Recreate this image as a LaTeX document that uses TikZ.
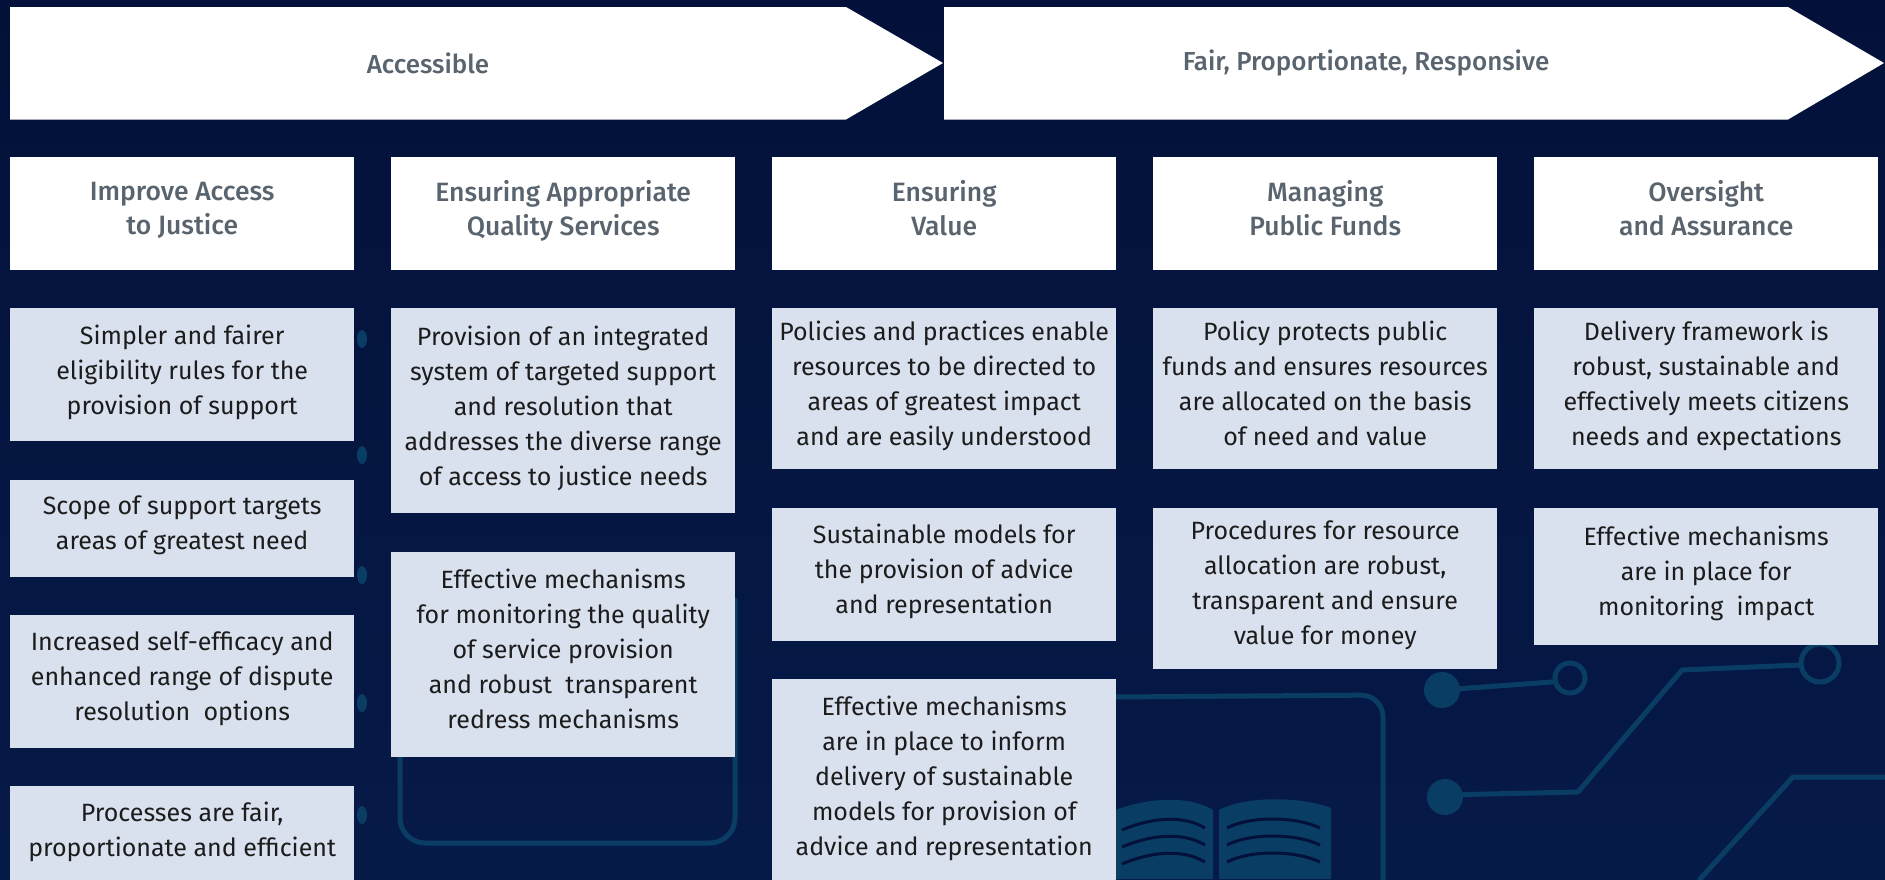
\documentclass[tikz,border=0pt]{standalone}
\usepackage{fontspec}
\setmainfont{Fira Sans}[BoldFont={Fira Sans Medium}]
\usetikzlibrary{positioning}

\definecolor{bgnavy}{HTML}{061A48}
\definecolor{bgdeep}{HTML}{03113A}
\definecolor{tracecol}{HTML}{0A3D64}
\definecolor{cardfill}{HTML}{D9E0EE}
\definecolor{headgray}{HTML}{59646F}
\definecolor{bodyink}{HTML}{1C1C1C}

\tikzset{
  bandtext/.style={font=\fontsize{26}{34}\selectfont\bfseries, text=headgray},
  headbox/.style={rectangle, fill=white, minimum width=344pt, minimum height=112.5pt,
    align=center, inner sep=0pt, text=headgray,
    font=\fontsize{26.5}{34}\selectfont\bfseries,
    execute at begin node=\strut, execute at end node=\strut},
  card/.style={rectangle, fill=cardfill, minimum width=344pt,
    align=center, inner sep=0pt, text=bodyink, font=\fontsize{25}{35}\selectfont,
    execute at begin node=\rule{0pt}{31.5pt}, execute at end node=\strut},
  trace/.style={draw=tracecol, line width=5pt, line cap=round, line join=round},
  pad/.style={fill=tracecol}
}

\begin{document}
\begin{tikzpicture}[x=1pt, y=-1pt, node distance=38pt]
	\useasboundingbox (0,0) rectangle (1885,879);
	\clip (0,0) rectangle (1885,879);

	% background
	\shade[top color=bgdeep, bottom color=bgnavy] (0,0) rectangle (1885,879);
	\draw[trace, rounded corners=25pt] (735,600) -- (735,843) -- (400,843) -- (400,600);
	\draw[trace, rounded corners=22pt] (1115,697) -- (1383,695) -- (1383,879);
	\draw[trace] (1442,690) -- (1552,682);
	\draw[trace] (1443,795) -- (1578,792) -- (1682,670) -- (1800,665);
	\draw[trace] (1885,777) -- (1793,777) -- (1700,879);
	\draw[trace] (1570,678) circle (15pt);
	\draw[trace] (1820,663) circle (19pt);
	\fill[pad] (1442,690) circle (18pt);
	\fill[pad] (1445,797) circle (18pt);
	\fill[pad] (362,339) ellipse (5pt and 9pt);
	\fill[pad] (362,455) ellipse (5pt and 9pt);
	\fill[pad] (362,575) ellipse (5pt and 9pt);
	\fill[pad] (362,703) ellipse (5pt and 9pt);
	\fill[pad] (362,815) ellipse (5pt and 9pt);

	% book
	\fill[pad] (1110,812) .. controls (1150,796) and (1190,796) .. (1213,810) -- (1213,879) -- (1110,879) -- cycle;
	\fill[pad] (1219,810) .. controls (1245,796) and (1300,796) .. (1331,808) -- (1331,879) -- (1219,879) -- cycle;
	\draw[bgdeep, line width=3pt] (1122,830) .. controls (1155,816) and (1185,816) .. (1205,828);
	\draw[bgdeep, line width=3pt] (1122,847) .. controls (1155,833) and (1185,833) .. (1205,845);
	\draw[bgdeep, line width=3pt] (1122,864) .. controls (1155,850) and (1185,850) .. (1205,862);
	\draw[bgdeep, line width=3pt] (1227,828) .. controls (1250,816) and (1295,816) .. (1320,828);
	\draw[bgdeep, line width=3pt] (1227,845) .. controls (1250,833) and (1295,833) .. (1320,845);
	\draw[bgdeep, line width=3pt] (1227,862) .. controls (1250,850) and (1295,850) .. (1320,862);

	% top bands
	\fill[white] (10,7) -- (846,7) -- (943,63) -- (846,119.5) -- (10,119.5) -- cycle;
	\fill[white] (944,7) -- (1788,7) -- (1884,63) -- (1788,119.5) -- (944,119.5) -- cycle;
	\node[bandtext] (accessible) at (428,63) {Accessible};
	\node[bandtext] (fair) at (1366,63) {Fair, Proportionate, Responsive};

	% column headers
	\node[headbox, anchor=north west] (hAccess) at (10,157) {Improve Access\\to Justice};
	\node[headbox, anchor=north west] (hQuality) at (391,157) {Ensuring Appropriate\\Quality Services};
	\node[headbox, anchor=north west] (hValue) at (772,157) {Ensuring\\Value};
	\node[headbox, anchor=north west] (hFunds) at (1153,157) {Managing\\Public Funds};
	\node[headbox, anchor=north west] (hOversight) at (1534,157) {Oversight\\and Assurance};

	% column 1
	\node[card, minimum height=133pt, below=of hAccess] (access1) {Simpler and fairer\\eligibility rules for the\\provision of support};
	\node[card, minimum height=97pt, below=of access1] (access2) {Scope of support targets\\areas of greatest need};
	\node[card, minimum height=133pt, below=of access2] (access3) {Increased self-efficacy and\\enhanced range of dispute\\resolution~ options};
	\node[card, minimum height=97pt, below=of access3] (access4) {Processes are fair,\\proportionate and efficient};

	% column 2
	\node[card, minimum height=205pt, below=of hQuality] (quality1) {Provision of an integrated\\system of targeted support\\and resolution that\\addresses the diverse range\\of access to justice needs};
	\node[card, minimum height=205pt, below=of quality1] (quality2) {Effective mechanisms\\for monitoring the quality\\of service provision\\and robust~ transparent\\redress mechanisms};

	% column 3
	\node[card, minimum height=161pt, below=of hValue] (value1) {Policies and practices enable\\resources to be directed to\\areas of greatest impact\\and are easily understood};
	\node[card, minimum height=133pt, below=of value1] (value2) {Sustainable models for\\the provision of advice\\and representation};
	\node[card, minimum height=205pt, below=of value2] (value3) {Effective mechanisms\\are in place to inform\\delivery of sustainable\\models for provision of\\advice and representation};

	% column 4
	\node[card, minimum height=161pt, below=of hFunds] (funds1) {Policy protects public\\funds and ensures resources\\are allocated on the basis\\of need and value};
	\node[card, minimum height=161pt, below=of funds1] (funds2) {Procedures for resource\\allocation are robust,\\transparent and ensure\\value for money};

	% column 5
	\node[card, minimum height=161pt, below=of hOversight] (over1) {Delivery framework is\\robust, sustainable and\\effectively meets citizens\\needs and expectations};
	\node[card, minimum height=137pt, below=of over1] (over2) {Effective mechanisms\\are in place for\\monitoring~ impact};
\end{tikzpicture}
\end{document}
